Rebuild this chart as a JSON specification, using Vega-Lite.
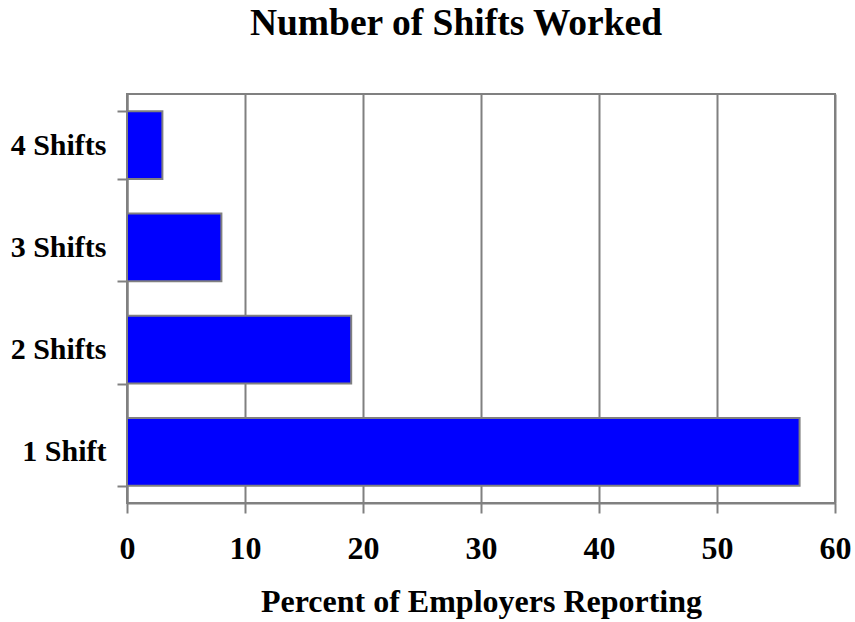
{
  "$schema": "https://vega.github.io/schema/vega-lite/v6.json",
  "width": 708,
  "height": 409,
  "autosize": "none",
  "padding": {"left": 127, "top": 94, "right": 20, "bottom": 119},
  "background": "white",
  "title": {
    "text": "Number of Shifts Worked",
    "font": "Liberation Serif",
    "fontSize": 37.5,
    "fontWeight": "bold",
    "color": "black",
    "anchor": "middle",
    "frame": "group",
    "baseline": "alphabetic",
    "offset": 52,
    "dx": -25,
    "dy": 45
  },
  "config": {
    "view": {"stroke": "#808080", "strokeWidth": 2}
  },
  "data": {
    "values": [
      {"shifts": "4 Shifts", "percent": 3},
      {"shifts": "3 Shifts", "percent": 8},
      {"shifts": "2 Shifts", "percent": 19},
      {"shifts": "1 Shift", "percent": 57}
    ]
  },
  "mark": {"type": "bar", "color": "#0000FF", "stroke": "#808080", "strokeWidth": 2},
  "encoding": {
    "y": {
      "field": "shifts",
      "type": "nominal",
      "sort": ["4 Shifts", "3 Shifts", "2 Shifts", "1 Shift"],
      "scale": {"paddingInner": 0.335, "paddingOuter": 0.1675},
      "axis": {
        "title": null,
        "tickBand": "extent",
        "grid": false,
        "domainColor": "#808080",
        "domainWidth": 2,
        "tickColor": "#808080",
        "tickWidth": 2,
        "tickSize": 10,
        "labelFont": "Liberation Serif",
        "labelFontSize": 30,
        "labelFontWeight": "bold",
        "labelColor": "black",
        "labelPadding": 11
      }
    },
    "x": {
      "field": "percent",
      "type": "quantitative",
      "scale": {"domain": [0, 60], "nice": false},
      "axis": {
        "title": "Percent of Employers Reporting",
        "titleFont": "Liberation Serif",
        "titleFontSize": 32,
        "titleFontWeight": "bold",
        "titleColor": "black",
        "titlePadding": 22,
        "values": [0, 10, 20, 30, 40, 50, 60],
        "labelFlush": false,
        "grid": true,
        "gridColor": "#808080",
        "gridWidth": 2,
        "domainColor": "#808080",
        "domainWidth": 2,
        "tickColor": "#808080",
        "tickWidth": 2,
        "tickSize": 10,
        "labelFont": "Liberation Serif",
        "labelFontSize": 32,
        "labelFontWeight": "bold",
        "labelColor": "black",
        "labelPadding": 20
      }
    }
  }
}
